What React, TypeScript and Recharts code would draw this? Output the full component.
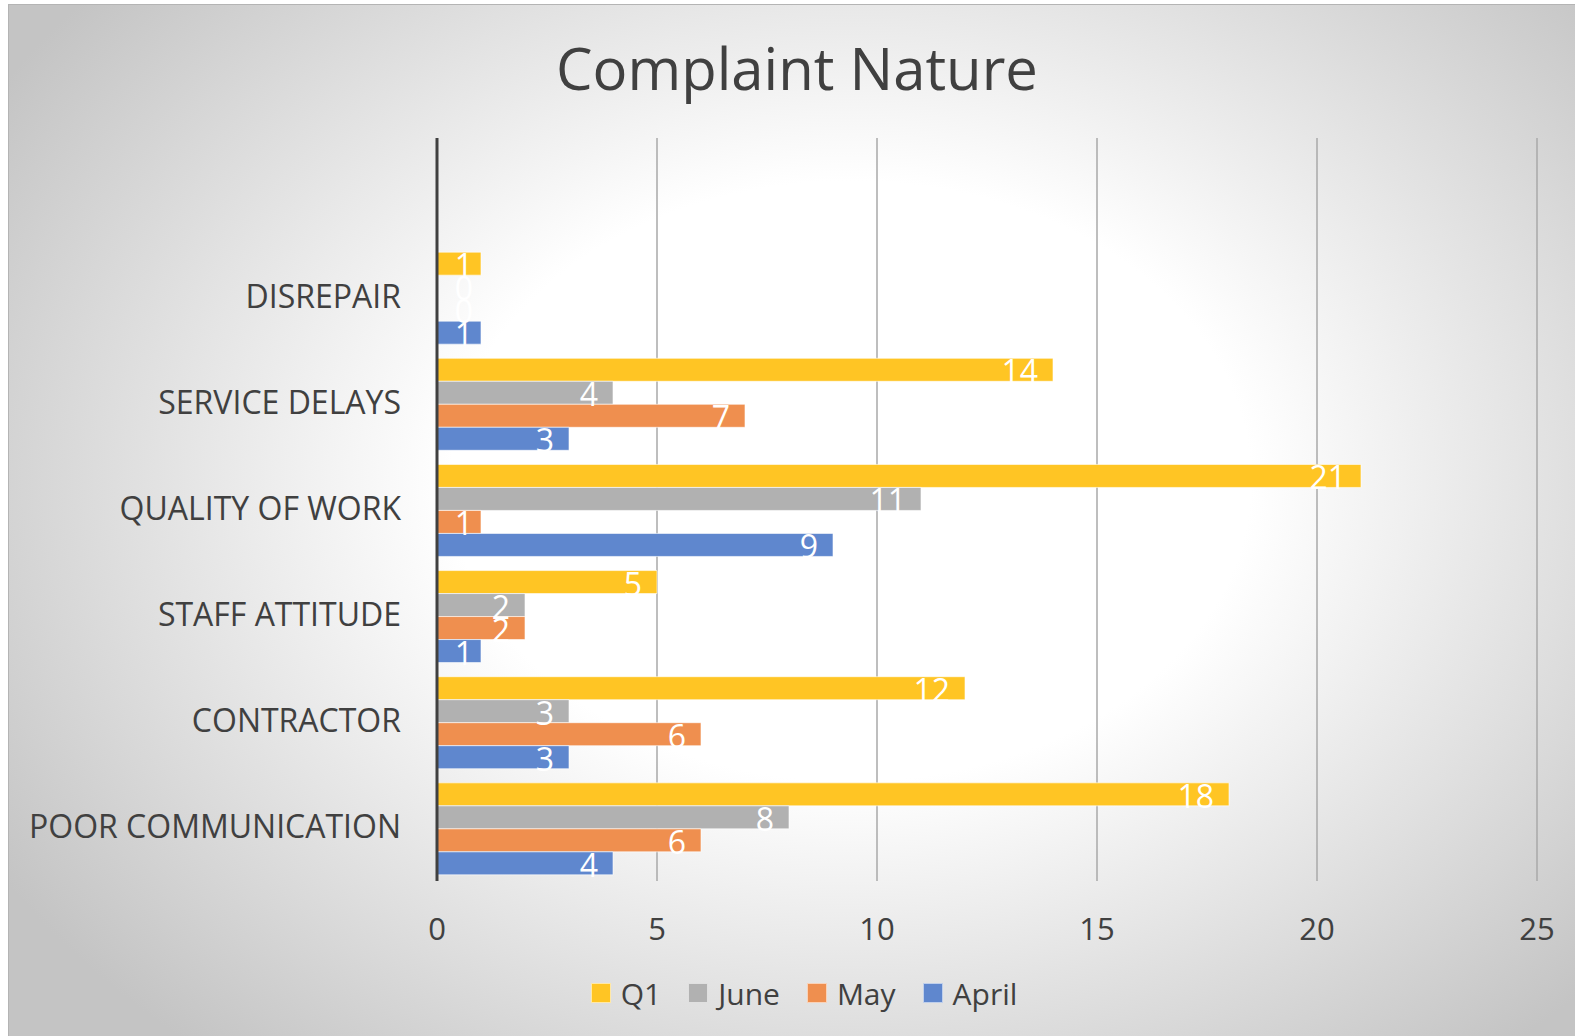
import React from 'react';
import { BarChart, Bar, XAxis, YAxis, CartesianGrid, LabelList } from 'recharts';

// categories top to bottom (first row is an empty band, as in the original)
const CATEGORIES = ['', 'DISREPAIR', 'SERVICE DELAYS', 'QUALITY OF WORK', 'STAFF ATTITUDE', 'CONTRACTOR', 'POOR COMMUNICATION'];
const Q1 = [null, 1, 14, 21, 5, 12, 18];
const JUNE = [null, 0, 4, 11, 2, 3, 8];
const MAY = [null, 0, 7, 1, 2, 6, 6];
const APRIL = [null, 1, 3, 9, 1, 3, 4];
const X_TICKS = [0, 5, 10, 15, 20, 25];

const SERIES = [
  { key: 'q1', name: 'Q1', color: '#FFC524' },
  { key: 'june', name: 'June', color: '#B1B1B1' },
  { key: 'may', name: 'May', color: '#EF8F4F' },
  { key: 'april', name: 'April', color: '#5F87CE' }
];

const data = CATEGORIES.map((name, i) => ({
  name,
  q1: Q1[i],
  june: JUNE[i],
  may: MAY[i],
  april: APRIL[i]
}));

const FONT = '"Open Sans", sans-serif';
const TEXT = '#404040';

const CategoryTick = (props: any) => {
  const { x, y, payload } = props;
  return (
    <text x={x - 36} y={y - 2} textAnchor="end" dominantBaseline="central" fill={TEXT} fontSize={32} fontFamily={FONT}>
      {payload.value}
    </text>
  );
};

const ValueTick = (props: any) => {
  const { x, y, payload } = props;
  return (
    <text x={x} y={y + 47} textAnchor="middle" dominantBaseline="central" fill={TEXT} fontSize={31} fontFamily={FONT}>
      {payload.value}
    </text>
  );
};

const renderValue = (props: any) => {
  const { x, y, width, height, value } = props;
  if (value === null || value === undefined) return null;
  const right = Math.max(x + width - 15, x + 36);
  return (
    <text x={right} y={y + height / 2 + 1} textAnchor="end" dominantBaseline="central" fill="#fff" fontSize={32} fontFamily={FONT}>
      {value}
    </text>
  );
};

export default function App() {
  return (
    <div
      style={{
        position: 'absolute',
        left: 8,
        top: 4,
        width: 1567,
        height: 1032,
        boxSizing: 'border-box',
        borderLeft: '1px solid #b4b4b4',
        borderTop: '1px solid #b4b4b4',
        background: 'radial-gradient(ellipse 1000px 750px at 842px 476px, #ffffff 0%, #ffffff 40%, #c4c4c4 100%)',
        fontFamily: FONT,
        overflow: 'hidden'
      }}
    >
      <div
        style={{
          position: 'absolute',
          top: 34,
          left: 10,
          right: 0,
          textAlign: 'center',
          fontSize: 58,
          fontWeight: 500,
          lineHeight: '58px',
          color: TEXT
        }}
      >
        Complaint Nature
      </div>

      <div style={{ position: 'absolute', left: 0, top: 0 }}>
        <BarChart
          width={1566}
          height={1031}
          data={data}
          layout="vertical"
          margin={{ top: 133, right: 38, bottom: 95, left: 28 }}
          barCategoryGap={8}
          barGap={0}
        >
          <CartesianGrid horizontal={false} stroke="#a8a8a8" strokeWidth={1.5} />
          <XAxis
            type="number"
            domain={[0, 25]}
            ticks={X_TICKS}
            axisLine={false}
            tickLine={false}
            tickSize={0}
            tickMargin={0}
            height={60}
            tick={<ValueTick />}
            interval={0}
          />
          <YAxis
            type="category"
            dataKey="name"
            width={400}
            tickLine={false}
            tickSize={0}
            tickMargin={0}
            axisLine={{ stroke: '#404040', strokeWidth: 3 }}
            tick={<CategoryTick />}
            interval={0}
          />
          {SERIES.map(s => (
            <Bar
              key={s.key}
              dataKey={s.key}
              name={s.name}
              fill={s.color}
              stroke="#ffffff"
              strokeOpacity={0.6}
              strokeWidth={1}
              minPointSize={1}
              isAnimationActive={false}
            >
              <LabelList dataKey={s.key} content={renderValue} />
            </Bar>
          ))}
        </BarChart>
      </div>

      <div
        style={{
          position: 'absolute',
          top: 968,
          left: 24,
          right: 0,
          height: 40,
          display: 'flex',
          justifyContent: 'center',
          alignItems: 'center',
          gap: 27,
          fontSize: 30,
          color: TEXT
        }}
      >
        {SERIES.map(s => (
          <div key={s.key} style={{ display: 'flex', alignItems: 'center' }}>
            <span
              style={{
                display: 'inline-block',
                width: 18,
                height: 18,
                background: s.color,
                border: '1px solid rgba(255,255,255,0.6)',
                marginRight: 10
              }}
            />
            <span>{s.name}</span>
          </div>
        ))}
      </div>
    </div>
  );
}
